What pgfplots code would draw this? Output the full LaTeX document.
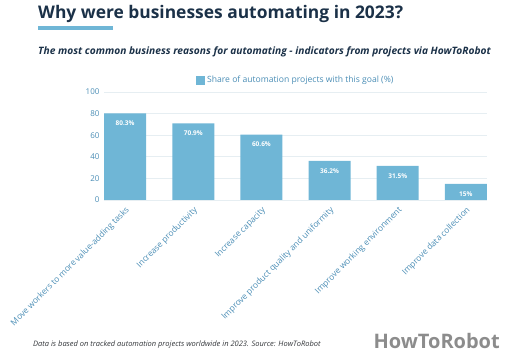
\documentclass[border=0pt]{standalone}
\usepackage{fontspec}
\setmainfont{Open Sans}
\usepackage{pgfplots}
\pgfplotsset{compat=1.18}
\definecolor{barblue}{HTML}{6FB6D6}
\definecolor{navy}{HTML}{1B3148}
\definecolor{ticktext}{HTML}{4A8DB5}
\definecolor{gridc}{HTML}{E6EEF2}
\definecolor{foot}{HTML}{33363A}
\definecolor{logogray}{HTML}{8C8C8C}
\begin{document}
\begin{tikzpicture}[x=1pt,y=1pt]
\path[use as bounding box] (0pt,0pt) rectangle (525pt,-350pt);
\node[anchor=base west, font=\fontsize{17.4}{19}\selectfont\bfseries, text=navy, inner sep=0] at (38pt,-19pt) {Why were businesses automating in 2023?};
\fill[barblue] (38pt,-26pt) rectangle (113pt,-30.5pt);
\node[anchor=base west, font=\fontsize{10.2}{12}\selectfont\bfseries\itshape, text=navy, inner sep=0] at (38pt,-55pt) {The most common business reasons for automating - indicators from projects via HowToRobot};
\begin{axis}[
  at={(104pt,-200pt)}, anchor=south west,
  scale only axis, width=383pt, height=108pt,
  ymin=0, ymax=100, xmin=-0.31, xmax=5.31,
  ytick={0,20,...,100},
  xtick={0,...,5},
  xticklabels={Move workers to more value-adding tasks,Increase productivity,Increase capacity,Improve product quality and uniformity,Improve working environment,Improve data collection},
  /pgf/number format/assume math mode=true,
  axis line style={draw=none},
  major tick length=0pt,
  ymajorgrids, grid style={gridc, line width=0.8pt},
  y tick label style={font=\fontsize{8}{9}\selectfont, text=ticktext, xshift=-1pt},
  x tick label style={font=\fontsize{8.4}{10}\selectfont, text=ticktext, inner sep=0pt, xshift=3pt, yshift=-9pt, rotate=45, anchor=east},
  ybar, bar width=42pt,
  nodes near coords={\pgfmathprintnumber[fixed,precision=1]{\pgfplotspointmeta}\%},
  every node near coord/.append style={anchor=north, yshift=-4pt, text=white, font=\fontsize{6.5}{8}\selectfont\bfseries},
  legend style={at={(rel axis cs:0.24,1.11)}, anchor=west, draw=none, fill=none, font=\fontsize{8.6}{10}\selectfont, text=ticktext, inner sep=0pt},
  legend image code/.code={\fill[barblue] (0pt,-4.5pt) rectangle (9pt,4.5pt);},
  clip=false,
]
\addplot[fill=barblue, draw=none] coordinates {(0,80.3) (1,70.9) (2,60.6) (3,36.2) (4,31.5) (5,15)};
\addlegendentry{Share of automation projects with this goal (\%)}
\draw[gridc, line width=1pt] (axis cs:-0.31,0) -- (axis cs:5.31,0);
\end{axis}
\node[anchor=base west, font=\fontsize{7.5}{9}\selectfont\itshape, text=foot, inner sep=0] at (33pt,-346pt) {Data is based on tracked automation projects worldwide in 2023. Source: HowToRobot};
\node[anchor=base east, font=\fontsize{20}{22}\selectfont\bfseries, text=logogray, inner sep=0] at (500pt,-348.5pt) {HowToRobot};
\end{tikzpicture}
\end{document}
